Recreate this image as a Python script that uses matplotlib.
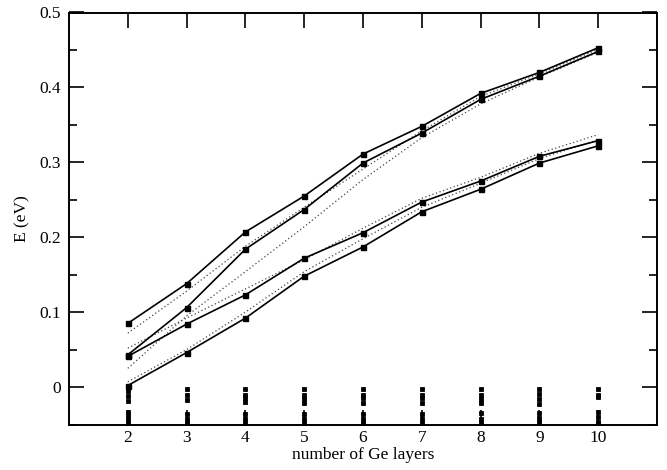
import matplotlib
matplotlib.use("Agg")
import matplotlib.pyplot as plt
from matplotlib.ticker import MultipleLocator, FormatStrFormatter

plt.rcParams['font.family'] = ['Liberation Serif', 'DejaVu Serif']
plt.rcParams['mathtext.fontset'] = 'stix'

layers = [2, 3, 4, 5, 6, 7, 8, 9, 10]

# computed energies (solid lines with squares)
state_a = [0.085, 0.138, 0.207, 0.255, 0.311, 0.348, 0.392, 0.420, 0.453]
state_b = [0.043, 0.106, 0.184, 0.237, 0.299, 0.339, 0.384, 0.415, 0.448]
state_c = [0.041, 0.084, 0.123, 0.172, 0.206, 0.247, 0.275, 0.308, 0.329]
state_d = [0.002, 0.046, 0.092, 0.148, 0.187, 0.234, 0.264, 0.299, 0.322]

# model curves (dotted)
model_a = [0.072, 0.128, 0.188, 0.240, 0.291, 0.342, 0.388, 0.418, 0.451]
model_b = [0.025, 0.095, 0.154, 0.214, 0.277, 0.333, 0.378, 0.414, 0.447]
model_c = [0.052, 0.092, 0.131, 0.170, 0.212, 0.252, 0.280, 0.312, 0.337]
model_d = [0.007, 0.050, 0.100, 0.154, 0.198, 0.240, 0.272, 0.305, 0.330]

# lower-lying states (markers only, near the bottom of the window)
low_states = {
    2: [-0.005, -0.012, -0.019, -0.033, -0.039, -0.044, -0.049],
    3: [-0.003, -0.010, -0.017, -0.036, -0.042, -0.048],
    4: [-0.003, -0.010, -0.015, -0.020, -0.036, -0.042, -0.048],
    5: [-0.003, -0.010, -0.016, -0.021, -0.036, -0.042, -0.048],
    6: [-0.003, -0.010, -0.015, -0.021, -0.036, -0.042, -0.048],
    7: [-0.003, -0.010, -0.015, -0.021, -0.036, -0.042, -0.048],
    8: [-0.003, -0.010, -0.016, -0.021, -0.035, -0.042, -0.047],
    9: [-0.003, -0.009, -0.016, -0.022, -0.034, -0.041, -0.047],
    10: [-0.002, -0.011, -0.013, -0.033, -0.040, -0.046, -0.049],
}

fig = plt.figure(figsize=(6.67, 4.70), dpi=100)
ax = fig.add_axes([69/667, 45.5/470, 588/667, 412/470])

for s in (state_a, state_b, state_c, state_d):
    ax.plot(layers, s, color='black', lw=1.2, marker='s', ms=3.6,
            mfc='black', mec='black', zorder=3)

for m in (model_a, model_b, model_c, model_d):
    ax.plot(layers, m, color='#444444', lw=0.9, linestyle=(0, (1, 2)), zorder=2)

for n, vals in low_states.items():
    ax.plot([n] * len(vals), vals, linestyle='none', marker='s', ms=3.2,
            mfc='black', mec='black', mew=0.6, zorder=3)

ax.set_xlim(1, 11)
ax.set_ylim(-0.05, 0.5)
ax.set_xticks(layers)
ax.yaxis.set_major_locator(MultipleLocator(0.1))
ax.yaxis.set_minor_locator(MultipleLocator(0.05))
ax.yaxis.set_major_formatter(FormatStrFormatter('%g'))

ax.tick_params(which='both', direction='in', top=True, right=True,
               labelsize=12.5, width=1.2)
ax.tick_params(axis='x', pad=4)
ax.tick_params(axis='y', pad=6)
ax.tick_params(which='major', length=11)
ax.tick_params(which='minor', length=6)
for sp in ax.spines.values():
    sp.set_linewidth(1.4)

ax.set_xlabel('number of Ge layers', fontsize=12.5, labelpad=1)
ax.set_ylabel('E (eV)', fontsize=12.5, labelpad=6)

fig.savefig('out.png', dpi=100)
